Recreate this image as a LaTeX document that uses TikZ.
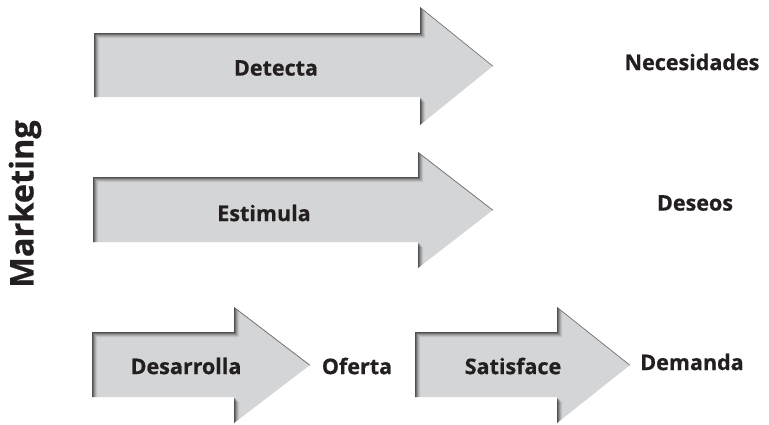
\documentclass[tikz,border=0pt]{standalone}
\usepackage{fontspec}
\setmainfont{Open Sans}[BoldFeatures={FakeBold=0.6}]
\definecolor{arrowgray}{HTML}{D4D5D7}
\definecolor{ink}{HTML}{231F20}
% outline of a block arrow: left x, head base x, tip x, body top/bottom, head top/bottom
\newcommand\arrowoutline[7]{(#1,#4) -- (#2,#4) -- (#2,#6) -- (#3,{(#6+#7)/2}) -- (#2,#7) -- (#2,#5) -- (#1,#5) -- cycle}
\newcommand\blockarrow[7]{%
  \begin{scope}
    \clip \arrowoutline{#1}{#2}{#3}{#4}{#5}{#6}{#7};
    \fill[arrowgray] (-10,-10) rectangle (800,450);
    \foreach \s/\o in {5/0.08,4/0.10,3/0.14,2/0.22,1/0.32}{
      \fill[black, opacity=\o, even odd rule] (-10,-10) rectangle (800,450)
        [shift={(\s,\s)}] \arrowoutline{#1}{#2}{#3}{#4}{#5}{#6}{#7};
    }
  \end{scope}}
\tikzset{
  lbl/.style={font=\bfseries\fontsize{21.5}{25}\selectfont, text=ink, inner sep=0pt},
  side/.style={font=\bfseries\fontsize{32.5}{36}\selectfont, text=ink, inner sep=0pt, rotate=90}
}
\begin{document}
\begin{tikzpicture}[x=1pt, y=-1pt]
  \useasboundingbox (0,0) rectangle (769,424);
  \fill[white] (0,0) rectangle (769,424);
  % block arrows
  \blockarrow{94}{420}{493}{33}{97}{7}{125}
  \blockarrow{93}{418}{493}{177}{242}{152}{268}
  \blockarrow{92}{234}{310}{332}{397}{307}{423}
  \blockarrow{415}{557}{630}{332}{397}{307}{423}
  % labels
  \node[lbl] (detecta) at (276,68) {Detecta};
  \node[lbl] (necesidades) at (692,62) {Necesidades};
  \node[lbl] (estimula) at (264,213) {Estimula};
  \node[lbl] (deseos) at (695,203) {Deseos};
  \node[lbl] (desarrolla) at (186,366) {Desarrolla};
  \node[lbl] (oferta) at (357,366) {Oferta};
  \node[lbl] (satisface) at (513,366) {Satisface};
  \node[lbl] (demanda) at (692,362) {Demanda};
  \node[side] (marketing) at (25,204) {Marketing};
\end{tikzpicture}
\end{document}
